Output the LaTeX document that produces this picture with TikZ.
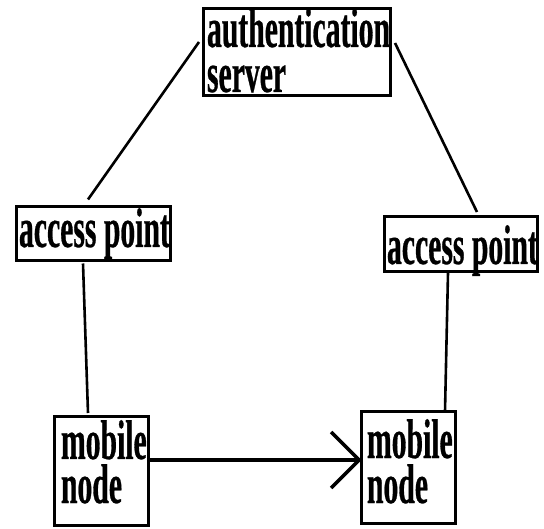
\documentclass[tikz,border=0pt]{standalone}
\usepackage{fontspec}
\newfontfamily\labfont{Liberation Serif}[FakeStretch=0.53,FakeBold=0.5]
\usetikzlibrary{arrows.meta}
\begin{document}
\begin{tikzpicture}[x=1pt,y=-1pt,
  box/.style={draw, line width=3pt, inner sep=0pt, outer sep=0pt},
  txt/.style={anchor=base west, inner sep=0pt, outer sep=0pt,
    font=\labfont\bfseries\fontsize{56}{44}\selectfont},
  link/.style={line width=2.6pt},
  move/.style={line width=3.8pt, -{Straight Barb[length=28pt,width=56pt,line width=3.4pt]}}]
\useasboundingbox (0,0) rectangle (544,529);

% boxes
\node[box, minimum width=187pt, minimum height=87pt]  (as)  at (297,52)    {};
\node[box, minimum width=154pt, minimum height=54pt]  (apl) at (93.5,234) {};
\node[box, minimum width=153pt, minimum height=55pt]  (apr) at (461,244)   {};
\node[box, minimum width=94pt,  minimum height=109pt] (mnl) at (101.5,471) {};
\node[box, minimum width=94pt,  minimum height=112pt] (mnr) at (408.5,467.5) {};

% labels
\node[txt] (as1)  at (207,47)  {authentication};
\node[txt] (as2)  at (207,92)  {server};
\node[txt] (aplt) at (19,247)  {access point};
\node[txt] (aprt) at (387,264) {access point};
\node[txt] (mnl1) at (61,459)  {mobile};
\node[txt] (mnl2) at (61,503)  {node};
\node[txt] (mnr1) at (367,458) {mobile};
\node[txt] (mnr2) at (367,503) {node};

% connectors
\draw[link] ([xshift=-4.5pt,yshift=10pt]as.west) -- ([xshift=-5.5pt,yshift=7.5pt]apl.north);
\draw[link] ([xshift=4.5pt,yshift=9pt]as.east) -- ([xshift=16pt,yshift=4.5pt]apr.north);
\draw[link] ([xshift=-10.5pt,yshift=-2.5pt]apl.south) -- ([xshift=-13.5pt,yshift=3.5pt]mnl.north);
\draw[link] ([xshift=-13pt,yshift=-1.5pt]apr.south) -- ([xshift=36.5pt]mnr.north);

% handover arrow
\draw[move] ([yshift=11pt]mnl.east) -- ([yshift=7.5pt]mnr.west);
\end{tikzpicture}
\end{document}
